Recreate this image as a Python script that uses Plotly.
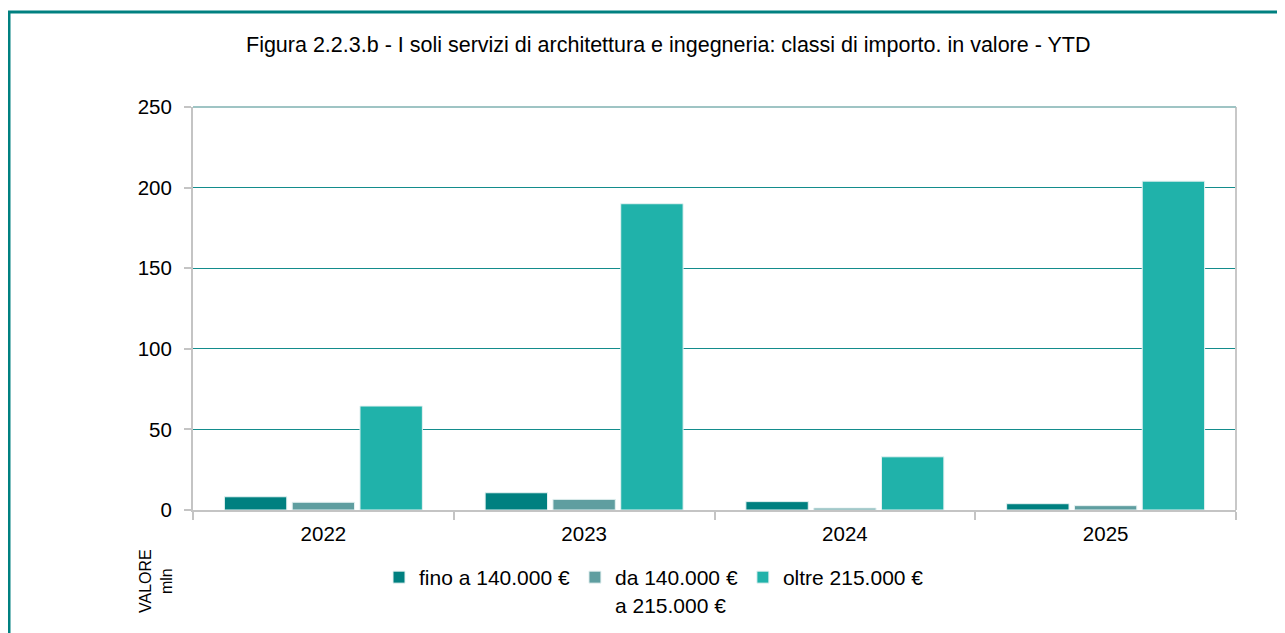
import plotly.graph_objects as go

years = ["2022", "2023", "2024", "2025"]
series_names = ["fino a 140.000 €", "da 140.000 €<br>a 215.000 €", "oltre 215.000 €"]
fino = [8.2, 10.7, 5.2, 3.9]
da = [4.8, 6.6, 1.2, 2.7]
oltre = [64.5, 190.0, 33.0, 204.0]
colors = ["#008080", "#5F9EA0", "#20B2AA"]
title = "Figura 2.2.3.b - I soli servizi di architettura e ingegneria: classi di importo. in valore - YTD"

fig = go.Figure()
for name, vals, col in zip(series_names, [fino, da, oltre], colors):
    fig.add_trace(go.Bar(x=years, y=vals, name=name,
                         marker=dict(color=col, line=dict(color="#e6f2f2", width=1))))

OFF = 8  # page body margin
W, H = 1277, 625
ml = 193 - OFF
mt = 107 - OFF
mb = (H + OFF) - 510
mr = (W + OFF) - 1236
pw, ph = W - ml - mr, H - mt - mb

def px2x(px):
    return (px - OFF - ml) / pw

def py2y(py):
    return (H - mb - (py - OFF)) / ph

fig.update_layout(
    width=W, height=H,
    margin=dict(l=ml, r=mr, t=mt, b=mb, autoexpand=False),
    paper_bgcolor="white", plot_bgcolor="white",
    font=dict(family="Liberation Sans, Arial, sans-serif", color="#000000", size=20.5),
    barmode="group", bargap=0.22, bargroupgap=0.08,
    showlegend=True,
    legend=dict(orientation="h", x=px2x(379), y=py2y(557), xanchor="left", yanchor="top",
                font=dict(size=21), traceorder="normal", valign="top",
                tracegroupgap=0),
    xaxis=dict(type="category", showline=True, linecolor="#c4c4c4", linewidth=2,
               ticks="outside", tickson="boundaries", ticklen=8, tickcolor="#c4c4c4",
               tickwidth=2, showgrid=False, mirror=False, ticklabelstandoff=4),
    yaxis=dict(range=[0, 250], dtick=50, showline=True, linecolor="#c4c4c4", linewidth=2,
               ticks="outside", ticklen=7, tickcolor="#c4c4c4", tickwidth=2,
               showgrid=True, gridcolor="#138c8c", gridwidth=1, zeroline=False,
               ticklabelstandoff=8),
    shapes=[
        dict(type="rect", xref="paper", yref="paper", x0=px2x(9), x1=px2x(1320), y0=py2y(12), y1=py2y(720),
             line=dict(color="#008080", width=3)),
        dict(type="line", xref="paper", yref="paper", x0=1, x1=1, y0=0, y1=1,
             line=dict(color="#c8c8c8", width=2)),
        dict(type="line", xref="paper", yref="paper", x0=0, x1=1, y0=1, y1=1,
             line=dict(color="#9fc4c4", width=2)),
    ],
    annotations=[
        dict(text=title, xref="paper", yref="paper", x=px2x(668), y=py2y(45), showarrow=False,
             xanchor="center", yanchor="middle", font=dict(size=21.5)),
        dict(text="VALORE<br>mln", xref="paper", yref="paper", x=px2x(156), y=py2y(581), showarrow=False,
             textangle=-90, xanchor="center", yanchor="middle", font=dict(size=16)),
    ],
)

fig.write_html("out.html")
